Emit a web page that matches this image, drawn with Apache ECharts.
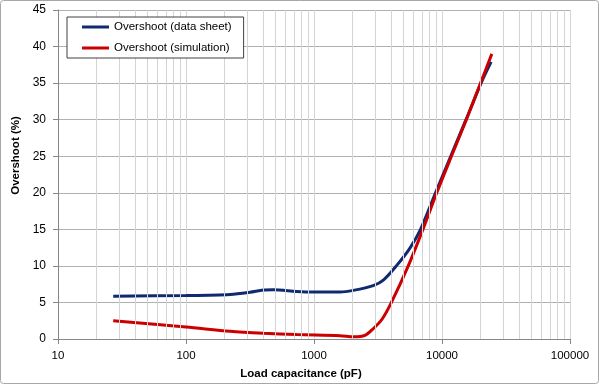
<!DOCTYPE html>
<html>
<head>
<meta charset="utf-8">
<script src="https://cdn.jsdelivr.net/npm/echarts@6/dist/echarts.min.js"></script>
<style>
html,body{margin:0;padding:0;background:#fff;}
#c{width:600px;height:385px;}
</style>
</head>
<body>
<div id="c"></div>
<script>
// Data (x = load capacitance in pF, y = overshoot in %)
const seriesNames = ['Overshoot (data sheet)', 'Overshoot (simulation)'];
const dataSheetX = [27, 100, 221, 316, 402, 481, 733, 987, 1597, 2028, 2900, 3500, 4400, 5600, 6800, 8900, 11700, 15400, 20200, 24200];
const dataSheetY = [5.85, 5.95, 6.1, 6.4, 6.7, 6.74, 6.5, 6.42, 6.42, 6.65, 7.3, 8.1, 10, 12.4, 15, 20, 25, 30, 35, 37.9];
const simulationX = [27, 100, 221, 402, 733, 1597, 2050, 2500, 2900, 3400, 4000, 5450, 7100, 9100, 11850, 15500, 20000, 24500];
const simulationY = [2.5, 1.65, 1.05, 0.78, 0.6, 0.46, 0.3, 0.5, 1.4, 2.7, 4.9, 10, 15, 20, 25, 30, 35, 39];
const xMin = 10, xMax = 100000;
const yMin = 0, yMax = 45, yStep = 5;
const minorGridValues = [20,30,40,50,60,70,80,90,200,300,400,500,600,700,800,900,2000,3000,4000,5000,6000,7000,8000,9000,20000,30000,40000,50000,60000,70000,80000,90000];

const pair = (xs, ys) => xs.map((x, i) => [x, ys[i]]);
const FONT = 'Liberation Sans, Arial, sans-serif';

const chart = echarts.init(document.getElementById('c'));
chart.setOption({
  animation: false,
  backgroundColor: '#fff',
  graphic: [{
    type: 'rect', z: -10,
    shape: {x: 0.5, y: 0.5, width: 598, height: 383, r: 3},
    style: {fill: 'none', stroke: '#a6a6a6', lineWidth: 1}
  }],
  grid: {left: 58, right: 30, top: 10, bottom: 45},
  legend: {
    orient: 'vertical',
    left: 67, top: 17, z: 20,
    data: seriesNames,
    icon: 'rect',
    itemWidth: 27, itemHeight: 3,
    itemGap: 7,
    padding: [3, 12, 3, 15],
    borderColor: '#404040', borderWidth: 1,
    backgroundColor: '#fff',
    textStyle: {fontFamily: FONT, fontSize: 11.5, color: '#000', lineHeight: 14}
  },
  xAxis: {
    type: 'log', logBase: 10, min: xMin, max: xMax,
    name: 'Load capacitance (pF)', nameLocation: 'middle', nameGap: 29,
    nameTextStyle: {fontFamily: FONT, fontSize: 11.5, fontWeight: 'bold', color: '#000', padding: [0, 26, 0, 0]},
    axisLine: {lineStyle: {color: '#868686'}},
    axisTick: {show: true, length: 5, lineStyle: {color: '#868686'}},
    axisLabel: {fontFamily: FONT, fontSize: 11.5, color: '#000', margin: 11, formatter: v => String(Math.round(v))},
    splitLine: {show: true, lineStyle: {color: '#d4d4d4'}}
  },
  yAxis: {
    type: 'value', min: yMin, max: yMax, interval: yStep,
    name: 'Overshoot (%)', nameLocation: 'middle', nameGap: 34,
    nameTextStyle: {fontFamily: FONT, fontSize: 11.5, fontWeight: 'bold', color: '#000', padding: [0, 0, 0, 38]},
    axisLine: {show: true, lineStyle: {color: '#868686'}},
    axisTick: {show: true, length: 5, lineStyle: {color: '#868686'}},
    axisLabel: {fontFamily: FONT, fontSize: 12, color: '#000', margin: 12},
    splitLine: {show: true, lineStyle: {color: '#b0b0b0'}}
  },
  series: [
    {
      name: 'minor', type: 'line', data: [], z: 1, silent: true,
      markLine: {
        silent: true, symbol: 'none', animation: false,
        label: {show: false},
        lineStyle: {color: '#d4d4d4', type: 'solid', width: 1},
        data: minorGridValues.map(v => ({xAxis: v}))
      }
    },
    {
      name: seriesNames[0], type: 'line', z: 3,
      data: pair(dataSheetX, dataSheetY),
      smooth: 0.3,
      showSymbol: false, symbol: 'none',
      lineStyle: {color: '#0f2a6e', width: 3},
      itemStyle: {color: '#0f2a6e'}
    },
    {
      name: seriesNames[1], type: 'line', z: 4,
      data: pair(simulationX, simulationY),
      smooth: 0.3,
      showSymbol: false, symbol: 'none',
      lineStyle: {color: '#cc0000', width: 3},
      itemStyle: {color: '#cc0000'}
    }
  ]
});
</script>
</body>
</html>
